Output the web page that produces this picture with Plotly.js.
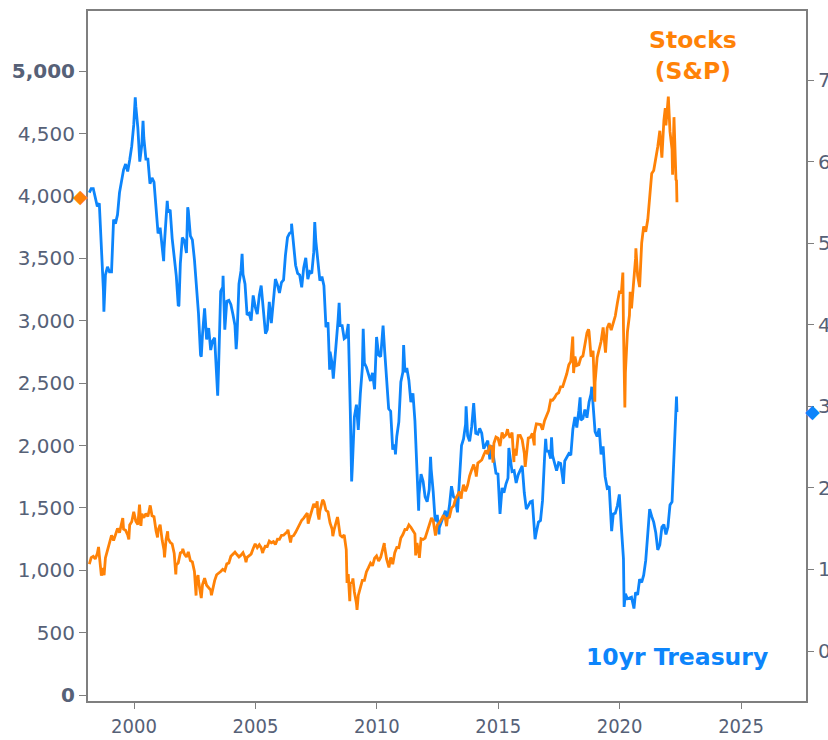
<!DOCTYPE html>
<html>
<head>
<meta charset="utf-8">
<script src="https://cdn.plot.ly/plotly-3.0.1.min.js"></script>
<style>html,body{margin:0;padding:0;background:#fff;}#chart{width:828px;height:740px;}</style>
</head>
<body>
<div id="chart"></div>
<script>
// ---- DATA ----
// Monthly closes, S&P 500, starting Feb 1998 (one value per month)
const spxMonthly = [
  1049,1102,1112,1091,1134,1121,957,1017,1099,1164,1229,
  1280,1238,1286,1335,1302,1373,1329,1320,1283,1363,1389,1469,
  1394,1366,1499,1452,1421,1455,1431,1518,1437,1429,1315,1320,
  1366,1240,1160,1249,1256,1224,1211,1134,1041,1060,1139,1148,
  1130,1107,1147,1077,1067,990,912,916,815,886,936,880,
  856,841,848,917,964,975,990,1008,996,1051,1058,1112,
  1131,1145,1126,1107,1121,1141,1102,1104,1115,1130,1174,1212,
  1181,1204,1181,1157,1192,1191,1234,1220,1229,1207,1249,1248,
  1280,1281,1295,1311,1270,1270,1277,1304,1336,1378,1401,1418,
  1438,1407,1421,1482,1531,1503,1455,1474,1527,1549,1481,1468,
  1379,1331,1323,1386,1400,1280,1267,1283,1166,969,896,903,
  826,735,798,873,919,919,987,1021,1057,1036,1096,1115,
  1074,1104,1169,1187,1089,1031,1102,1049,1141,1183,1181,1258,
  1286,1327,1326,1364,1345,1321,1292,1219,1131,1253,1247,1258,
  1312,1366,1408,1398,1310,1362,1379,1407,1441,1412,1416,1426,
  1498,1515,1569,1598,1631,1606,1686,1633,1682,1757,1806,1848,
  1783,1859,1872,1884,1924,1960,1931,2003,1972,2018,2068,2059,
  1995,2105,2068,2086,2107,2063,2104,1972,1920,2079,2080,2044,
  1940,1932,2060,2065,2097,2099,2174,2171,2168,2126,2199,2239,
  2279,2364,2363,2384,2412,2423,2470,2472,2519,2575,2648,2674,
  2824,2714,2641,2648,2705,2718,2816,2902,2914,2712,2760,2507,
  2704,2784,2834,2946,2752,2942,2980,2926,2977,3038,3141,3231,
  3226,2954,2585,2912,3044,3100,3271,3500,3363,3270,3622,3756,
  3714,3811,3973,4181,4204,4298,4395,4523,4308,4605,4567,4766,
  4516,4374,4530,4132
];
// Intra-month swings of the S&P visible in the chart
const spxSwingDates = ["1998-07-17","1998-10-08","1999-07-16","1999-10-15","2000-03-24","2000-04-14","2000-09-01","2000-12-20",
  "2001-04-04","2001-05-21","2001-09-21","2002-01-04","2002-07-23","2002-08-22","2002-10-09","2003-03-11","2004-08-12",
  "2005-04-20","2006-05-05","2006-06-13","2007-02-20","2007-03-05","2007-07-19","2007-08-15","2007-10-09","2008-03-10",
  "2008-05-19","2008-10-10","2008-11-20","2009-01-06","2009-03-09","2010-04-23","2010-07-02","2011-08-08","2011-10-03",
  "2012-04-02","2012-06-01","2012-11-15","2013-06-24","2014-02-05","2014-10-15","2015-05-21","2015-08-25","2016-02-11",
  "2016-06-27","2018-01-26","2018-02-08","2018-09-20","2018-12-24","2019-06-03","2020-02-19","2020-03-20","2020-06-08",
  "2020-09-02","2021-11-18","2022-01-03","2022-03-08","2022-03-29","2022-05-06","2022-05-13"];
const spxSwingValues = [1187,960,1418,1247,1527,1356,1520,1264,
  1103,1312,966,1172,797,962,777,800,1064,
  1138,1325,1223,1459,1374,1553,1407,1565,1273,
  1426,899,752,935,683,1217,1022,1119,1099,
  1419,1278,1353,1573,1751,1862,2131,1867,1829,
  2001,2873,2581,2931,2351,2744,3386,2304,3232,
  3580,4705,4797,4170,4632,4123,3950];

// Monthly 10-year Treasury yield (%), starting Feb 1998
const tnxMonthly = [
  5.62,5.67,5.67,5.55,5.45,5.49,5.00,4.42,4.61,4.71,4.65,
  4.65,5.29,5.24,5.35,5.62,5.78,5.90,5.97,5.88,6.02,6.19,6.45,
  6.68,6.41,6.00,6.21,6.29,6.03,6.03,5.73,5.80,5.75,5.47,5.12,
  5.19,4.92,4.93,5.34,5.38,5.41,5.06,4.84,4.60,4.23,4.75,5.07,
  5.03,4.88,5.40,5.09,5.04,4.80,4.46,4.14,3.63,3.89,4.20,3.82,
  3.96,3.69,3.80,3.84,3.37,3.52,4.41,4.46,3.94,4.29,4.30,4.25,
  4.13,3.99,3.83,4.50,4.66,4.62,4.50,4.12,4.14,4.05,4.36,4.22,
  4.13,4.36,4.48,4.20,3.98,3.94,4.28,4.02,4.33,4.56,4.49,4.39,
  4.52,4.55,4.85,5.07,5.12,5.14,4.99,4.73,4.63,4.61,4.46,4.70,
  4.82,4.56,4.65,4.63,4.89,5.03,4.78,4.54,4.59,4.48,3.97,4.03,
  3.67,3.53,3.45,3.73,4.06,3.99,3.99,3.83,3.85,4.01,2.93,2.25,
  2.87,3.02,2.71,3.16,3.47,3.53,3.48,3.40,3.31,3.41,3.21,3.85,
  3.63,3.61,3.84,3.69,3.31,2.97,2.94,2.47,2.53,2.63,2.81,3.30,
  3.42,3.42,3.47,3.32,3.05,3.16,2.82,2.23,1.92,2.17,2.08,1.89,
  1.83,1.98,2.23,1.95,1.59,1.67,1.51,1.57,1.65,1.72,1.62,1.78,
  2.02,1.89,1.87,1.70,2.16,2.52,2.60,2.78,2.64,2.57,2.75,3.04,
  2.67,2.66,2.73,2.67,2.48,2.53,2.58,2.35,2.52,2.35,2.18,2.17,
  1.68,2.00,1.94,2.05,2.12,2.35,2.20,2.21,2.06,2.16,2.21,2.27,
  1.94,1.74,1.78,1.83,1.84,1.49,1.46,1.58,1.60,1.84,2.37,2.45,
  2.45,2.36,2.40,2.29,2.21,2.31,2.30,2.12,2.33,2.38,2.42,2.40,
  2.72,2.87,2.74,2.95,2.83,2.85,2.96,2.86,3.05,3.15,3.01,2.69,
  2.63,2.73,2.41,2.51,2.14,2.00,2.02,1.50,1.68,1.69,1.78,1.92,
  1.51,1.13,0.70,0.64,0.65,0.66,0.55,0.72,0.69,0.88,0.84,0.93,
  1.11,1.44,1.74,1.65,1.58,1.45,1.24,1.30,1.52,1.55,1.43,1.52,
  1.79,1.83,2.32,2.89
];
const tnxSwingDates = ["1998-10-05","2000-01-20","2000-05-16","2001-03-22","2001-05-15","2001-11-07","2002-03-19","2002-10-09",
  "2003-06-13","2003-09-02","2004-03-17","2004-06-14","2005-06-01","2006-06-28","2007-06-12","2008-01-22","2008-03-17",
  "2008-06-13","2008-12-18","2009-06-10","2010-04-05","2010-10-08","2011-02-08","2011-09-22","2012-03-19","2012-07-24",
  "2013-09-05","2015-06-10","2016-07-08","2016-12-15","2017-03-13","2017-09-07","2018-05-17","2018-11-08","2019-09-03",
  "2020-03-09","2020-08-04","2022-05-06","2022-05-13"];
const tnxSwingValues = [4.16,6.79,6.50,4.78,5.52,4.24,5.44,3.61,
  3.13,4.60,3.70,4.87,3.89,5.24,5.26,3.45,3.34,
  4.27,2.08,3.95,3.99,2.41,3.75,1.72,2.38,1.43,
  3.00,2.49,1.37,2.60,2.62,2.05,3.11,3.24,1.47,
  0.54,0.52,3.12,2.93];

// Latest-value markers on the axes
const stockMarkerValue = 4000;
const yieldMarkerValue = 2.94;

// Tick labels
const stockTickVals = [0,500,1000,1500,2000,2500,3000,3500,4000,4500,5000];
const stockTickText = ["<b>0</b>","500","1,000","1,500","2,000","2,500","3,000","3,500","4,000","4,500","<b>5,000</b>"];
const yieldTickVals = [0,1,2,3,4,5,6,7];
const yieldTickText = ["0","1","2","3","4","5","6","7"];
const yearTickVals = ["2000-01-01","2005-01-01","2010-01-01","2015-01-01","2020-01-01","2025-01-01"];
const yearTickText = ["2000","2005","2010","2015","2020","2025"];

// ---- BUILD ----
function monthDates(n){
  const out=[];
  for(let i=0;i<n;i++){
    const m=1+i; const y=1998+Math.floor(m/12); const mm=(m%12)+1;
    out.push(y+"-"+String(mm).padStart(2,"0")+"-28");
  }
  return out;
}
function merge(d1,v1,d2,v2){
  const pts=d1.map((d,i)=>[d,v1[i]]).concat(d2.map((d,i)=>[d,v2[i]]));
  pts.sort((a,b)=>a[0]<b[0]?-1:a[0]>b[0]?1:0);
  return {x:pts.map(p=>p[0]), y:pts.map(p=>p[1])};
}
const spx = merge(monthDates(spxMonthly.length), spxMonthly, spxSwingDates, spxSwingValues);
const tnx = merge(monthDates(tnxMonthly.length), tnxMonthly, tnxSwingDates, tnxSwingValues);

const ORANGE="#ff8207", BLUE="#0d85fb", TXT="#566177", AX="#7f7f7f";

const traces = [
  {x:tnx.x, y:tnx.y, type:"scatter", mode:"lines", yaxis:"y", line:{color:BLUE,width:2.8}, hoverinfo:"skip"},
  {x:spx.x, y:spx.y, type:"scatter", mode:"lines", yaxis:"y2", line:{color:ORANGE,width:2.8}, hoverinfo:"skip"}
];

const layout = {
  width:828, height:740,
  margin:{l:88, r:22, t:11, b:39, pad:0},
  paper_bgcolor:"#fff", plot_bgcolor:"#fff",
  showlegend:false,
  xaxis:{type:"date", range:["1998-02-08","2027-09-05"], showgrid:false, zeroline:false,
    showline:true, linecolor:AX, linewidth:2, mirror:true,
    ticks:"outside", ticklen:6, tickwidth:1, tickcolor:AX,
    tickvals:yearTickVals, ticktext:yearTickText,
    tickfont:{family:"'DejaVu Sans Condensed','DejaVu Sans',sans-serif", size:20, color:TXT}},
  yaxis:{side:"right", range:[-0.613,7.847], showgrid:false, zeroline:false,
    showline:true, linecolor:AX, linewidth:2,
    ticks:"outside", ticklen:6, tickwidth:1, tickcolor:AX,
    tickvals:yieldTickVals, ticktext:yieldTickText,
    tickfont:{family:"'DejaVu Sans',sans-serif", size:20, color:TXT}},
  yaxis2:{side:"left", overlaying:"y", range:[-48,5483], showgrid:false, zeroline:false,
    showline:true, linecolor:AX, linewidth:2,
    ticks:"outside", ticklen:7, tickwidth:1, tickcolor:AX,
    tickvals:stockTickVals, ticktext:stockTickText,
    tickfont:{family:"'DejaVu Sans',sans-serif", size:20, color:TXT}},
  annotations:[
    {xref:"paper", yref:"paper", x:0.8426, y:0.936, xanchor:"center", yanchor:"middle", showarrow:false,
     text:"<b>Stocks<br>(S&P)</b>", align:"center",
     font:{family:"'DejaVu Sans',sans-serif", size:23.5, color:ORANGE}},
    {xref:"paper", yref:"paper", x:0.821, y:0.0637, xanchor:"center", yanchor:"middle", showarrow:false,
     text:"<b>10yr Treasury</b>",
     font:{family:"'DejaVu Sans',sans-serif", size:23.5, color:BLUE}},
    {xref:"paper", yref:"y2", x:-0.0111, y:stockMarkerValue, xanchor:"center", yanchor:"middle", showarrow:false,
     text:"◆", font:{family:"'DejaVu Sans',sans-serif", size:19, color:ORANGE}},
    {xref:"paper", yref:"y", x:1.0084, y:yieldMarkerValue, xanchor:"center", yanchor:"middle", showarrow:false,
     text:"◆", font:{family:"'DejaVu Sans',sans-serif", size:19, color:BLUE}}
  ]
};

Plotly.newPlot("chart", traces, layout, {staticPlot:true, displayModeBar:false});
</script>
</body>
</html>
